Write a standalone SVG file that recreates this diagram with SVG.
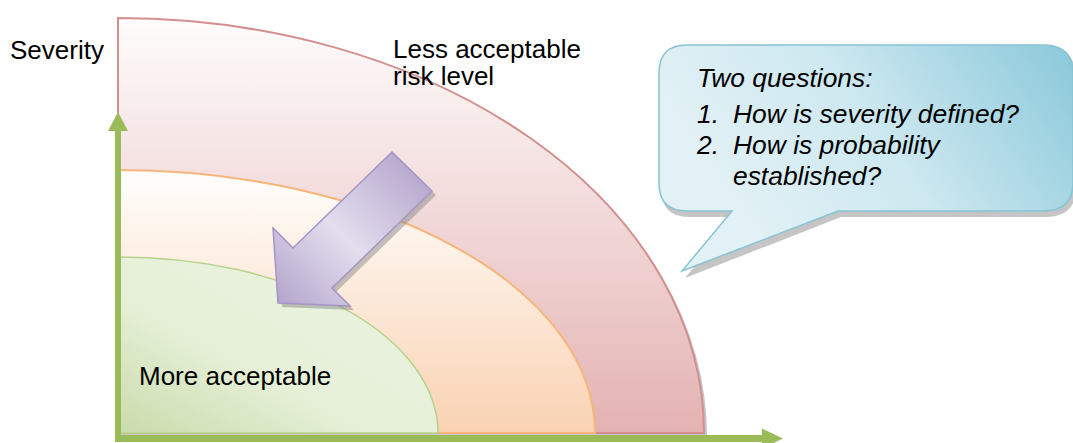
<svg xmlns="http://www.w3.org/2000/svg" width="1073" height="443" viewBox="0 0 1073 443">
  <defs>
    <style>
      .lbl { font-family: "Liberation Sans", Arial, sans-serif; font-size: 26px; fill: #000; }
      .q { font-family: "Liberation Sans", Arial, sans-serif; font-size: 26.4px; font-style: italic; fill: #000; }
      .axis { fill: #9bbb59; }
      .shadow { fill: #7f7f7f; opacity: 0.45; }
    </style>
    <linearGradient id="gRed" x1="0" y1="0" x2="0" y2="1">
      <stop offset="0" stop-color="#fefcfc"/>
      <stop offset="1" stop-color="#e4b2b2"/>
    </linearGradient>
    <linearGradient id="gOrange" x1="0" y1="0" x2="0" y2="1">
      <stop offset="0" stop-color="#fffefd"/>
      <stop offset="1" stop-color="#f9d2b2"/>
    </linearGradient>
    <linearGradient id="gGreen" x1="0" y1="1" x2="0.8" y2="0.2">
      <stop offset="0" stop-color="#c9dcab"/>
      <stop offset="0.5" stop-color="#e6f0d8"/>
      <stop offset="1" stop-color="#eaf2de"/>
    </linearGradient>
    <linearGradient id="gPurple" gradientUnits="userSpaceOnUse" x1="412" y1="171" x2="276" y2="304">
      <stop offset="0" stop-color="#b9aacf"/>
      <stop offset="0.5" stop-color="#e3deee"/>
      <stop offset="1" stop-color="#b3a4cc"/>
    </linearGradient>
    <linearGradient id="gBlue" gradientUnits="userSpaceOnUse" x1="1060" y1="45" x2="760" y2="250">
      <stop offset="0" stop-color="#8ecadb"/>
      <stop offset="0.55" stop-color="#cde8f0"/>
      <stop offset="1" stop-color="#e2f1f5"/>
    </linearGradient>
  </defs>

  <!-- risk zones: quarter ellipses around the origin (118,433) -->
  <g id="zone-less">
    <path d="M121,436 L121,21 A586,415 0 0 1 707,436 Z" class="shadow"/>
    <path d="M118,433 L118,18 A586,415 0 0 1 704,433 Z" fill="url(#gRed)" stroke="#d38f8f" stroke-width="2"/>
  </g>
  <g id="zone-mid">
    <path d="M118,433 L118,170 A477,263 0 0 1 595,433 Z" fill="url(#gOrange)" stroke="#f7b57a" stroke-width="2"/>
  </g>
  <g id="zone-more">
    <path d="M118,433 L118,257 A320,176 0 0 1 438,433 Z" fill="url(#gGreen)" stroke="#b5d28f" stroke-width="1.5"/>
  </g>

  <!-- axes -->
  <g id="connectors">
    <path class="axis" d="M115,442 L115,131 L108,131 L118,112 L128,131 L121,131 L121,435 L762,435 L762,428.5 L783,438.5 L762,448.5 L762,442 Z"/>
  </g>

  <!-- block arrow pointing towards the acceptable zone -->
  <g id="direction-arrow">
    <path class="shadow" d="M396,156 L436,195 L336,292 L354,310 L282,307 L277,232 L297,252 Z"/>
    <path d="M392,152 L432,191 L332,288 L350,306 L278,303 L273,228 L293,248 Z" fill="url(#gPurple)" stroke="#a595c7" stroke-width="1.5" stroke-linejoin="miter"/>
  </g>

  <!-- speech bubble -->
  <g id="questions">
    <path class="shadow" d="M689,45 L1045,45 Q1076,45 1076,74 L1076,185 Q1076,214 1045,214 L841,214 L685,275 L735,214 L689,214 Q661,214 661,185 L661,74 Q661,45 689,45 Z" transform="translate(0,3)"/>
    <path d="M687,45 L1043,45 Q1073,45 1073,73 L1073,183 Q1073,211 1043,211 L838,211 L682,271 L732,211 L687,211 Q659,211 659,183 L659,73 Q659,45 687,45 Z" fill="url(#gBlue)" stroke="#88c3d3" stroke-width="1.5"/>
    <text class="q" x="697" y="87">Two questions:</text>
    <text class="q" x="697" y="123">1.</text>
    <text class="q" x="733" y="123">How is severity defined?</text>
    <text class="q" x="697" y="154">2.</text>
    <text class="q" x="733" y="154">How is probability</text>
    <text class="q" x="733" y="185">established?</text>
  </g>

  <!-- labels -->
  <g id="labels">
    <text class="lbl" x="10" y="59">Severity</text>
    <text class="lbl" x="393" y="58">Less acceptable</text>
    <text class="lbl" x="393" y="85">risk level</text>
    <text class="lbl" x="139" y="385">More acceptable</text>
  </g>
</svg>
